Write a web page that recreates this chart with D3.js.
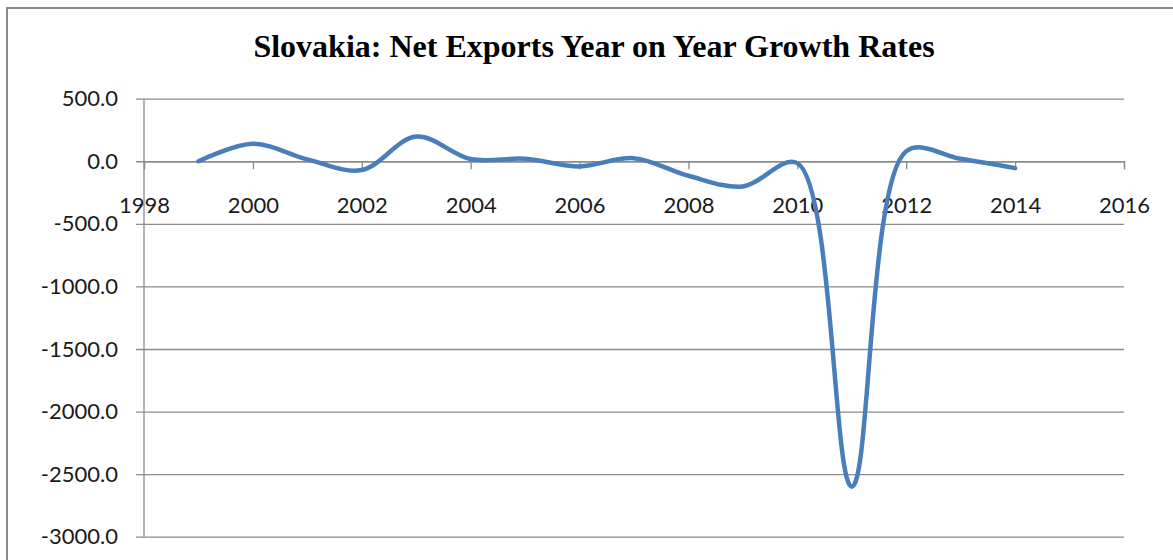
<!DOCTYPE html>
<html>
<head>
<meta charset="utf-8">
<script src="https://cdn.jsdelivr.net/npm/d3@7"></script>
<style>
  html, body { margin: 0; padding: 0; background: #fff; }
  svg { display: block; }
</style>
</head>
<body>
<svg id="chart" width="1173" height="560"></svg>
<script>
// Net exports, year-on-year growth rate (%)
const years  = [1999, 2000, 2001, 2002, 2003, 2004, 2005, 2006, 2007, 2008, 2009, 2010, 2011, 2012, 2013, 2014];
const growth = [0, 140, 15, -70, 198, 18, 20, -41, 25, -116, -201, -15, -2600, 80, 20, -55];
const xTicks = [1998, 2000, 2002, 2004, 2006, 2008, 2010, 2012, 2014, 2016];
const yTicks = [500, 0, -500, -1000, -1500, -2000, -2500, -3000];
const title  = "Slovakia: Net Exports Year on Year Growth Rates";

const svg = d3.select("#chart");
const W = 1173, H = 560;

// chart frame
svg.append("rect")
  .attr("x", 7).attr("y", 8)
  .attr("width", W + 10).attr("height", H + 10)
  .attr("fill", "#fff")
  .attr("stroke", "#8a8a8a")
  .attr("stroke-width", 2);

const x = d3.scaleLinear().domain([1998, 2016]).range([144, 1124]);
const y = d3.scaleLinear().domain([-3000, 500]).range([536.7, 98.7]);

const labelFont = "Lato, 'Open Sans', sans-serif";
const gridColor = "#8c8c8c";

// horizontal gridlines with value labels (plain hyphen for negatives)
const yAxis = d3.axisLeft(y)
  .tickValues(yTicks)
  .tickSize(-(x(2016) - x(1998)))
  .tickPadding(26)
  .tickFormat(d => d.toFixed(1));

const gy = svg.append("g")
  .attr("transform", `translate(${x(1998)},0)`)
  .call(yAxis);
gy.select(".domain").remove();
gy.selectAll(".tick line")
  .attr("x1", -8)
  .attr("stroke", gridColor)
  .attr("stroke-width", 1.3);
gy.selectAll(".tick text")
  .attr("fill", "#1a1a1a")
  .style("font-family", labelFont)
  .style("font-size", "22px");

// vertical axis line
svg.append("line")
  .attr("x1", x(1998)).attr("x2", x(1998))
  .attr("y1", y(500)).attr("y2", y(-3000))
  .attr("stroke", gridColor)
  .attr("stroke-width", 1.3);

// horizontal axis crossing at zero
const xAxis = d3.axisBottom(x)
  .tickValues(xTicks)
  .tickSize(8)
  .tickFormat(d => String(d));

const gx = svg.append("g")
  .attr("transform", `translate(0,${y(0)})`)
  .call(xAxis);
gx.select(".domain")
  .attr("stroke", gridColor)
  .attr("stroke-width", 1.3);
gx.selectAll(".tick line")
  .attr("stroke", gridColor)
  .attr("stroke-width", 1.3);
gx.selectAll(".tick text")
  .attr("y", 52)
  .attr("dy", 0)
  .attr("fill", "#1a1a1a")
  .style("font-family", labelFont)
  .style("font-size", "22px");

// smoothed series line
const line = d3.line()
  .x((d, i) => x(years[i]))
  .y(d => y(d))
  .curve(d3.curveCatmullRom.alpha(0.5));

svg.append("path")
  .datum(growth)
  .attr("d", line)
  .attr("fill", "none")
  .attr("stroke", "#4a7ebb")
  .attr("stroke-width", 4.5)
  .attr("stroke-linecap", "round")
  .attr("stroke-linejoin", "round");

// title
svg.append("text")
  .attr("x", 594)
  .attr("y", 57)
  .attr("text-anchor", "middle")
  .style("font-family", "'Liberation Serif', 'Times New Roman', serif")
  .style("font-weight", "bold")
  .style("font-size", "32px")
  .attr("fill", "#000")
  .text(title);
</script>
</body>
</html>
